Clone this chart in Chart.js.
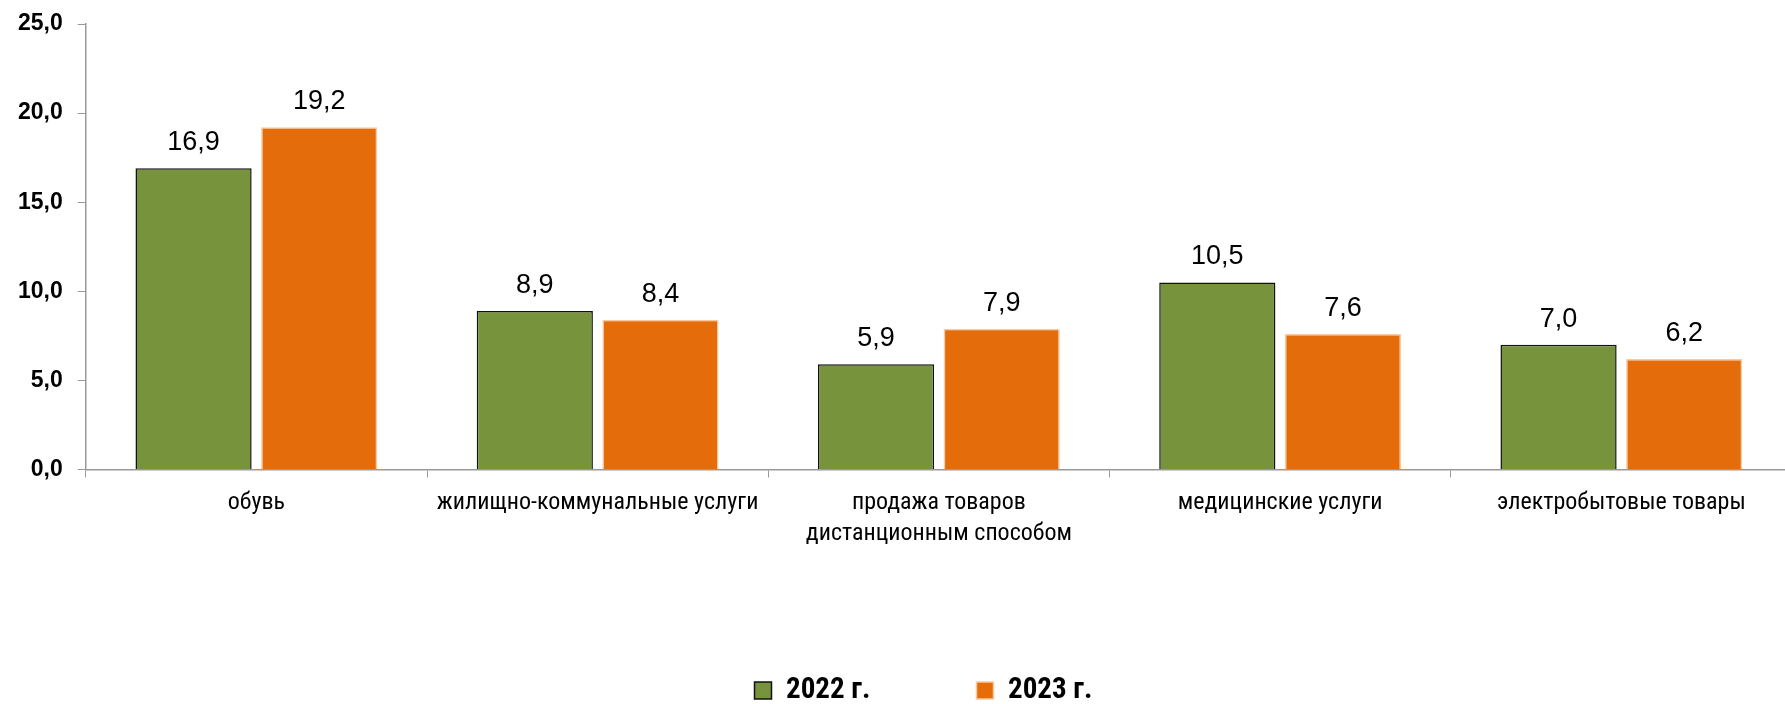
<!DOCTYPE html>
<html>
<head>
<meta charset="utf-8">
<script src="https://cdn.jsdelivr.net/npm/chart.js@4.4.1/dist/chart.umd.min.js"></script>
<style>
  body { margin: 0; overflow: hidden; background: #fff; }
  #wrap { position: relative; width: 1785px; height: 704px; overflow: hidden; }
  #chart { position: absolute; left: 0; top: 0; }
</style>
</head>
<body>
<div id="wrap">
  <canvas id="chart" width="1800" height="704"></canvas>
</div>
<script>
const categories = [
  'обувь',
  'жилищно-коммунальные услуги',
  ['продажа товаров', 'дистанционным способом'],
  'медицинские услуги',
  'электробытовые товары'
]
const values2022 = [16.9, 8.9, 5.9, 10.5, 7.0]
const values2023 = [19.2, 8.4, 7.9, 7.6, 6.2]
const yTicks = [0, 5, 10, 15, 20, 25]
const seriesNames = ['2022 г.', '2023 г.']

const narrow = '"Liberation Sans Narrow", "Arial Narrow", "Roboto Condensed", "DejaVu Sans Condensed", "Liberation Sans", sans-serif'
const plain = '"Liberation Sans", Arial, sans-serif'

function fmt(v){
    return v.toFixed(1).replace('.', ',')
}

// value labels above the bars
const barLabels = {
    id: 'barLabels',
    afterDatasetsDraw(chart){
        const ctx = chart.ctx
        ctx.save()
        ctx.font = '27px ' + plain
        ctx.fillStyle = '#000'
        ctx.textAlign = 'center'
        ctx.textBaseline = 'alphabetic'
        chart.data.datasets.forEach((ds, i) => {
            chart.getDatasetMeta(i).data.forEach((bar, j) => {
                ctx.fillText(fmt(ds.data[j]), bar.x, bar.y - 18)
            })
        })
        ctx.restore()
    }
}

// legend sits a bit right of the canvas centre in the original
const legendShift = {
    id: 'legendShift',
    afterLayout(chart){
        const lg = chart.legend
        lg.left = 55
        lg.width = lg.right - lg.left
    }
}

const ctx = document.getElementById('chart').getContext('2d')
const graph = new Chart(ctx, {
    type: 'bar',
    data: {
        labels: categories,
        datasets: [{
            label: seriesNames[0],
            data: values2022,
            backgroundColor: '#77933C',
            borderColor: '#111111',
            borderWidth: 1.5,
            categoryPercentage: 0.7364,
            barPercentage: 0.9246
        }, {
            label: seriesNames[1],
            data: values2023,
            backgroundColor: '#E46C0A',
            borderColor: '#FAC9A0',
            borderWidth: 1.5,
            categoryPercentage: 0.7364,
            barPercentage: 0.9246
        }]
    },
    options: {
        responsive: false,
        animation: false,
        devicePixelRatio: 1,
        layout: {
            padding: { left: 3, right: 8, top: 24, bottom: -11 }
        },
        scales: {
            x: {
                grid: {
                    drawOnChartArea: false,
                    color: '#999999',
                    tickLength: 8,
                    offset: true
                },
                border: { color: '#999999', width: 1.5 },
                ticks: {
                    color: '#000',
                    padding: 10,
                    maxRotation: 0,
                    autoSkip: false,
                    font: { family: narrow, size: 24, lineHeight: 1.29 }
                },
                afterFit: (scale) => { scale.height = 100.5 }
            },
            y: {
                min: 0,
                max: 25,
                grid: {
                    drawOnChartArea: false,
                    color: '#999999',
                    tickLength: 8
                },
                border: { color: '#999999', width: 1.5 },
                afterBuildTicks: (scale) => {
                    scale.ticks = yTicks.map(v => ({ value: v }))
                },
                ticks: {
                    color: '#000',
                    padding: 15,
                    // small lineHeight so the top label does not push the plot down
                    font: { family: plain, size: 23, weight: 'bold', lineHeight: 0.7 },
                    callback: (v) => fmt(v)
                }
            }
        },
        plugins: {
            legend: {
                position: 'bottom',
                labels: {
                    color: '#000',
                    boxWidth: 17,
                    boxHeight: 17,
                    padding: 106,
                    font: { family: narrow, size: 29, weight: 'bold' }
                }
            },
            tooltip: { enabled: false }
        }
    },
    plugins: [barLabels, legendShift]
})
console.log(graph.chartArea)
</script>
</body>
</html>
